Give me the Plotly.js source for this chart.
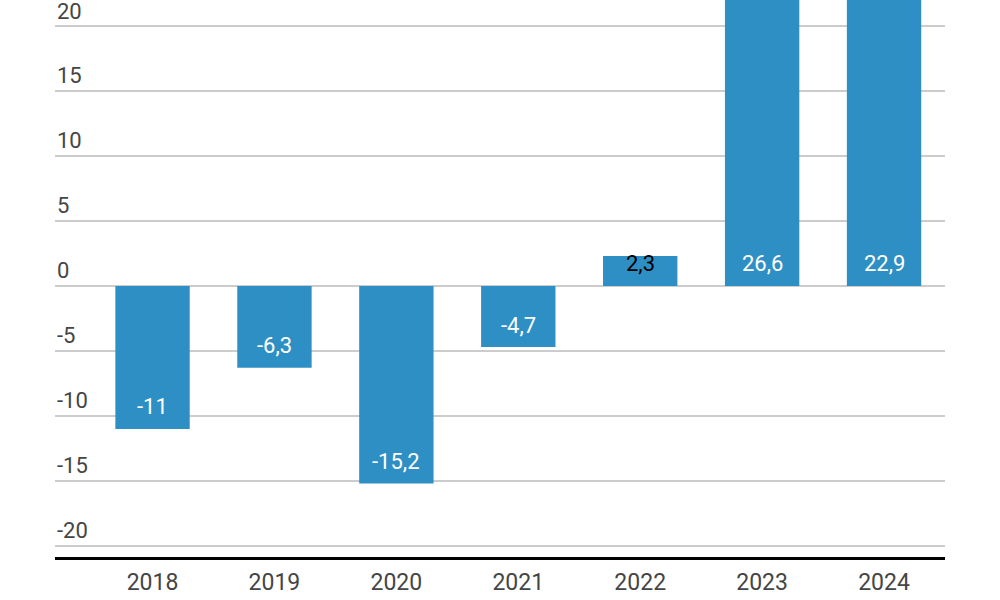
<!DOCTYPE html>
<html>
<head>
<meta charset="utf-8">
<script src="https://cdn.plot.ly/plotly-3.0.1.min.js"></script>
<style>html,body{margin:0;padding:0;background:#fff;}#chart{width:1000px;height:600px;}</style>
</head>
<body>
<div id="chart"></div>
<script>
const years = ["2018", "2019", "2020", "2021", "2022", "2023", "2024"];
const values = [-11, -6.3, -15.2, -4.7, 2.3, 26.6, 22.9];
const labels = ["-11", "-6,3", "-15,2", "-4,7", "2,3", "26,6", "22,9"];
const labelColors = ["#ffffff", "#ffffff", "#ffffff", "#ffffff", "#000000", "#ffffff", "#ffffff"];
const yTicks = [-20, -15, -10, -5, 0, 5, 10, 15, 20];

const trace = {
  type: "bar",
  x: years,
  y: values,
  marker: {color: "#2e8fc4"},
  hoverinfo: "none"
};

const barLabels = values.map((v, i) => ({
  x: i,
  y: v >= 0 ? 0 : v,
  yshift: 22,
  text: labels[i],
  showarrow: false,
  xref: "x",
  yref: "y",
  xanchor: "center",
  yanchor: "middle",
  font: {family: "Roboto, sans-serif", size: 22, color: labelColors[i]}
}));

const yLabels = yTicks.map(t => ({
  x: 0,
  y: t,
  xref: "paper",
  yref: "y",
  xanchor: "left",
  yanchor: "middle",
  xshift: 0,
  yshift: 15,
  text: String(t),
  showarrow: false,
  font: {family: "Roboto, sans-serif", size: 22, color: "#454545"}
}));

const layout = {
  width: 1000,
  height: 600,
  margin: {l: 55, r: 55, t: 0, b: 43},
  paper_bgcolor: "#ffffff",
  plot_bgcolor: "#ffffff",
  showlegend: false,
  bargap: 0.39,
  font: {family: "Roboto, sans-serif", color: "#454545"},
  xaxis: {
    type: "category",
    range: [-0.8, 6.5],
    showgrid: false,
    showline: true,
    linecolor: "#000000",
    linewidth: 3,
    ticks: "",
    tickfont: {size: 23, color: "#454545"},
    ticklabelstandoff: 2,
    fixedrange: true
  },
  yaxis: {
    range: [-20.85, 22],
    tickvals: yTicks,
    showgrid: true,
    gridcolor: "#cccccc",
    gridwidth: 1.5,
    zeroline: false,
    showline: false,
    ticks: "",
    showticklabels: false,
    fixedrange: true
  },
  annotations: barLabels.concat(yLabels)
};

Plotly.newPlot("chart", [trace], layout, {displayModeBar: false, staticPlot: true});
</script>
</body>
</html>
